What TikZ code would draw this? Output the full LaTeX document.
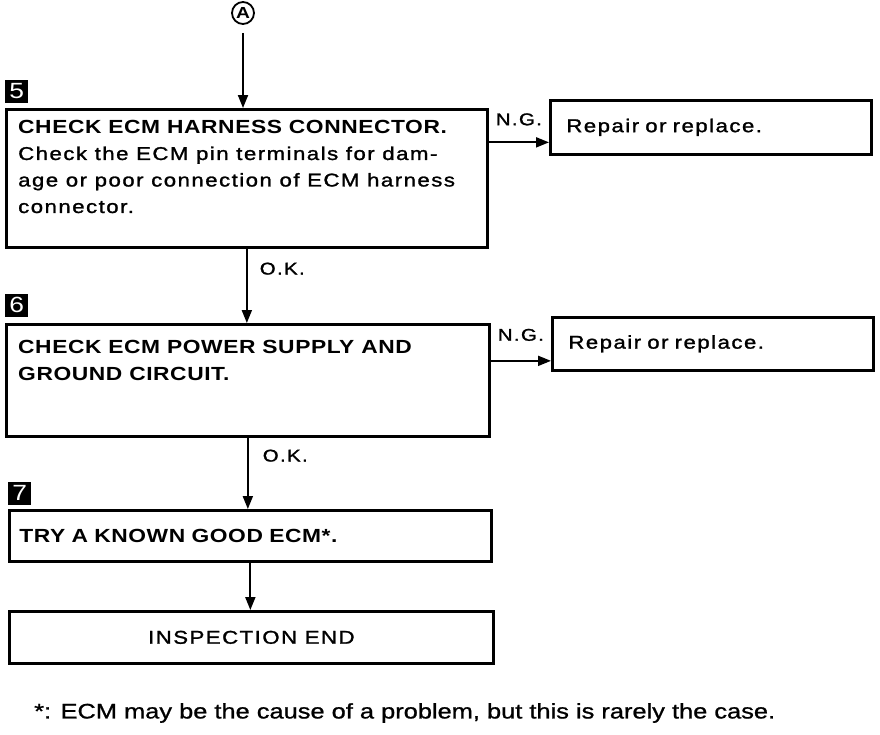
\documentclass[tikz,border=0pt]{standalone}
\usepackage{fontspec}
\setmainfont{Liberation Sans}
\newfontfamily\headfont[FakeStretch=1.2,LetterSpace=3]{Liberation Sans}
\newfontfamily\bodyfont[FakeStretch=1.2,LetterSpace=8,FakeBold=1.4]{Liberation Sans}
\newfontfamily\notefont[FakeStretch=1.21,FakeBold=1]{Liberation Sans}
\usetikzlibrary{arrows.meta,positioning}

\begin{document}
\begin{tikzpicture}[
  x=1pt,y=-1pt,
  font=\bodyfont\fontsize{18.5}{26.5}\selectfont,
  every node/.style={align=left},
  frame/.style={draw,line width=2.7pt,anchor=north west,inner sep=0pt},
  head/.style={font=\headfont\bfseries\fontsize{19}{27}\selectfont},
  body/.style={inner sep=0pt,anchor=north west},
  num/.style={fill=black,text=white,minimum size=23pt,inner sep=0pt,
              anchor=south west,font=\headfont\fontsize{22}{22}\selectfont},
  lbl/.style={inner sep=0pt,font=\bodyfont\fontsize{17}{17}\selectfont},
  arr/.style={-{Triangle[length=13pt,width=10pt]},line width=1.9pt}
]
\useasboundingbox (0,0) rectangle (880,734);

% Entry point.
\node[circle,draw,line width=1.8pt,inner sep=0pt,minimum size=22pt,
      font=\headfont\bfseries\fontsize{16}{16}\selectfont] (A) at (243,13) {A};

% Step 5.
\node[frame,minimum width=481pt,minimum height=138pt] (f5) at (5,108) {};
\node[num] (n5) at ([yshift=5pt]f5.north west) {5};
\node[body] (t5) at ([xshift=13pt,yshift=-12pt]f5.north west)
  {{\headfont\bfseries\fontsize{19}{26.5}\selectfont CHECK ECM HARNESS CONNECTOR.}\\
   Check the ECM pin terminals for dam-\\
   age or poor connection of ECM harness\\
   connector.};
\node[frame,minimum width=321pt,minimum height=54pt,inner xsep=16pt,
      text width=289pt] (r5) at (549,99) {Repair or replace.};

% Step 6.
\node[frame,minimum width=483pt,minimum height=112pt] (f6) at (5,323) {};
\node[num] (n6) at ([yshift=6pt]f6.north west) {6};
\node[body,head] (t6) at ([xshift=13pt,yshift=-17pt]f6.north west)
  {CHECK ECM POWER SUPPLY AND\\GROUND CIRCUIT.};
\node[frame,minimum width=321pt,minimum height=53pt,inner xsep=16pt,
      text width=289pt] (r6) at (551,316) {Repair or replace.};

% Step 7.
\node[frame,head,minimum width=482pt,minimum height=51pt,inner xsep=10pt,
      text width=462pt] (f7) at (8,509) {TRY A KNOWN GOOD ECM*.};
\node[num] (n7) at ([yshift=4pt]f7.north west) {7};

% End.
\node[frame,minimum width=484pt,minimum height=52pt,align=center]
     (fend) at (8,610) {INSPECTION END};

% Connectors.
\draw[arr] ([yshift=-8pt]A.south) -- (A.south |- f5.north);
\draw[arr] (f5.south) -- (f5.south |- f6.north)
  node[lbl,pos=0,anchor=north west,xshift=12pt,yshift=-13pt] (ok5) {O.K.};
\draw[arr] (f6.south) -- (f6.south |- f7.north)
  node[lbl,pos=0,anchor=north west,xshift=14pt,yshift=-11pt] (ok6) {O.K.};
\draw[arr] (f7.south) -- (f7.south |- fend.north);
\draw[arr] ([yshift=-15pt]r5.west -| f5.east) -- ([yshift=-15pt]r5.west)
  node[lbl,midway,above=16pt] (ng5) {N.G.};
\draw[arr] ([yshift=-17pt]r6.west -| f6.east) -- ([yshift=-17pt]r6.west)
  node[lbl,midway,above=19pt] (ng6) {N.G.};

% Footnote.
\node[anchor=west,inner sep=0pt,font=\notefont\fontsize{21}{21}\selectfont]
     (note) at (34,713) {*: ECM may be the cause of a problem, but this is rarely the case.};
\end{tikzpicture}
\end{document}
